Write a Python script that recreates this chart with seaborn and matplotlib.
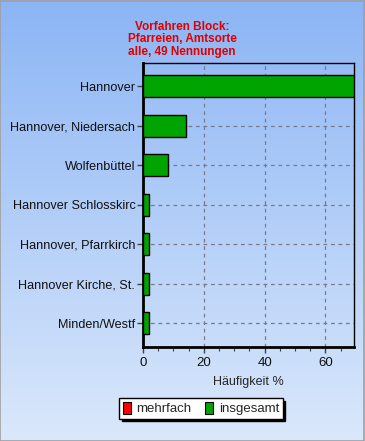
import numpy as np
import pandas as pd
import matplotlib
matplotlib.use("Agg")
import matplotlib.pyplot as plt
from matplotlib.patches import Patch, Rectangle
from matplotlib.colors import LinearSegmentedColormap
from matplotlib.ticker import MultipleLocator
import seaborn as sns

categories = ["Hannover", "Hannover, Niedersach", "Wolfenbüttel", "Hannover Schlosskirc",
              "Hannover, Pfarrkirch", "Hannover Kirche, St.", "Minden/Westf"]
insgesamt = [69.39, 14.29, 8.16, 2.04, 2.04, 2.04, 2.04]
mehrfach = [0, 0, 0, 0, 0, 0, 0]
title_lines = ["Vorfahren Block:", "Pfarreien, Amtsorte", "alle, 49 Nennungen"]
xlabel = "Häufigkeit %"
legend_labels = ["mehrfach", "insgesamt"]

sns.set_style("white")
plt.rcParams["font.family"] = ["Liberation Sans", "DejaVu Sans"]

fig = plt.figure(figsize=(3.65, 4.41), dpi=100)

# background gradient
bg = fig.add_axes([0, 0, 1, 1], zorder=-10)
cmap = LinearSegmentedColormap.from_list("bg", ["#8cb5f5", "#dae8fb"])
grad = np.linspace(0, 1, 256).reshape(-1, 1)
bg.imshow(grad, aspect="auto", cmap=cmap, extent=[0, 1, 0, 1], origin="upper")
bg.set_xlim(0, 1); bg.set_ylim(0, 1)
bg.axis("off")
bg.add_patch(Rectangle((0.001, 0.001), 0.997, 0.997, fill=False, edgecolor="#a0a0a0", lw=1.2,
                       transform=bg.transAxes))

ax = fig.add_axes([143/365, 1-347/441, (354-143)/365, (347-62.5)/441])
ax.set_facecolor("none")
df = pd.DataFrame({"cat": categories, "val": insgesamt})
sns.barplot(data=df, x="val", y="cat", color="#00a400", saturation=1, edgecolor="black",
            linewidth=1, width=0.56, ax=ax, zorder=3)

ax.set_xlim(0, max(insgesamt))
ax.set_ylim(len(categories) - 0.4, -0.6)
ax.xaxis.set_major_locator(MultipleLocator(20))
ax.xaxis.set_minor_locator(MultipleLocator(5))
ax.grid(True, axis="both", which="major", color="#7a7a8a", linestyle=(0, (3, 3)), lw=0.9, zorder=0)
ax.set_axisbelow(True)
for s in ["left", "bottom"]:
    ax.spines[s].set_linewidth(2)
    ax.spines[s].set_color("black")
for s in ["top", "right"]:
    ax.spines[s].set_linewidth(1)
    ax.spines[s].set_color("black")
    ax.spines[s].set_visible(True)
ax.tick_params(axis="y", which="major", direction="out", length=4, width=1, color="#404040",
               labelsize=9.1, pad=1.5, left=True, labelcolor="#111111")
ax.tick_params(axis="x", which="major", direction="out", length=4, width=1, color="#404040",
               labelsize=9.5, pad=3.5, bottom=True, labelcolor="#111111")
ax.tick_params(axis="x", which="minor", direction="out", length=3, width=0.8, color="#404040", bottom=True)
ax.set_ylabel("")
ax.set_xlabel(xlabel, fontsize=9, labelpad=5)

fig.text(182/365, 1-20.5/441, "\n".join(title_lines), ha="center", va="top", color="#e00000",
         fontsize=8.5, fontweight="bold", linespacing=1.1)

handles = [Patch(facecolor="#ff0000", edgecolor="black", lw=0.8),
           Patch(facecolor="#00a400", edgecolor="black", lw=0.8)]
leg = fig.legend(handles, legend_labels, loc="center", bbox_to_anchor=(201/365, 1-408.5/441),
                 ncol=2, fontsize=9.5, frameon=True, fancybox=False, edgecolor="black",
                 framealpha=1, handlelength=0.6, handleheight=1.1, handletextpad=0.45,
                 columnspacing=1.0, borderpad=0.25, borderaxespad=0,
                 shadow={"color": "black", "alpha": 1})
leg.get_frame().set_linewidth(1)

fig.savefig("out.png", dpi=100)
